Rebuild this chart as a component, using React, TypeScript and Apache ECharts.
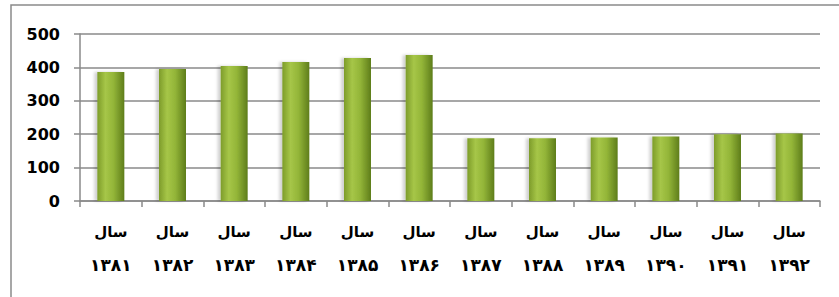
import React, { useEffect, useRef } from "react";
import * as echarts from "echarts";

const categories = [
  "سال\n۱۳۸۱", "سال\n۱۳۸۲", "سال\n۱۳۸۳", "سال\n۱۳۸۴", "سال\n۱۳۸۵", "سال\n۱۳۸۶",
  "سال\n۱۳۸۷", "سال\n۱۳۸۸", "سال\n۱۳۸۹", "سال\n۱۳۹۰", "سال\n۱۳۹۱", "سال\n۱۳۹۲",
];
const values = [386, 395, 404, 416, 428, 437, 188, 188, 190, 193, 200, 202];
const yTicks = { min: 0, max: 500, interval: 100 };

export default function App() {
  const ref = useRef<HTMLDivElement>(null);
  useEffect(() => {
    const chart = echarts.init(ref.current!, null, { renderer: "svg" });
    chart.setOption({
      animation: false,
      backgroundColor: "#ffffff",
      graphic: [
        {
          type: "rect",
          shape: { x: 11, y: 5, width: 840, height: 300 },
          style: { fill: "none", stroke: "#8a8a8a", lineWidth: 1.5 },
          silent: true,
        },
      ],
      grid: { left: 80, right: 19, top: 34, bottom: 96, containLabel: false },
      xAxis: {
        type: "category",
        data: categories,
        axisLine: { lineStyle: { color: "#8a8a8a", width: 1.5 } },
        axisTick: { show: true, length: 6, lineStyle: { color: "#8a8a8a", width: 1.5 } },
        axisLabel: {
          interval: 0,
          margin: 14,
          color: "#000",
          formatter: (v: string) => {
            const [a, b] = v.split("\n");
            return "{a|" + a + "}\n{b|" + b + "}";
          },
          rich: {
            a: { fontFamily: "DejaVu Sans", fontWeight: "bold", fontSize: 15, lineHeight: 33, color: "#000" },
            b: { fontFamily: "DejaVu Sans", fontWeight: "bold", fontSize: 17, lineHeight: 33, color: "#000" },
          },
        },
      },
      yAxis: {
        type: "value",
        min: yTicks.min,
        max: yTicks.max,
        interval: yTicks.interval,
        axisLine: { show: true, lineStyle: { color: "#8a8a8a", width: 1.5 } },
        axisTick: { show: true, length: 6, lineStyle: { color: "#8a8a8a", width: 1.5 } },
        splitLine: { lineStyle: { color: "#8a8a8a", width: 1.5 } },
        axisLabel: {
          margin: 20,
          fontFamily: "DejaVu Sans",
          fontWeight: "bold",
          fontSize: 16,
          color: "#000",
        },
      },
      series: [
        {
          type: "bar",
          data: values,
          barWidth: 27,
          itemStyle: {
            color: new echarts.graphic.LinearGradient(0, 0, 1, 0, [
              { offset: 0, color: "#7d9c2a" },
              { offset: 0.3, color: "#a6c648" },
              { offset: 0.6, color: "#93b538" },
              { offset: 1, color: "#5e7d1b" },
            ]),
            shadowColor: "rgba(0,0,0,0.18)",
            shadowBlur: 3,
            shadowOffsetX: -3,
            shadowOffsetY: 0,
          },
        },
      ],
    });
    return () => chart.dispose();
  }, []);
  return (
    <div
      ref={ref}
      style={{ position: "fixed", left: 0, top: 0, width: 839, height: 297 }}
    />
  );
}
